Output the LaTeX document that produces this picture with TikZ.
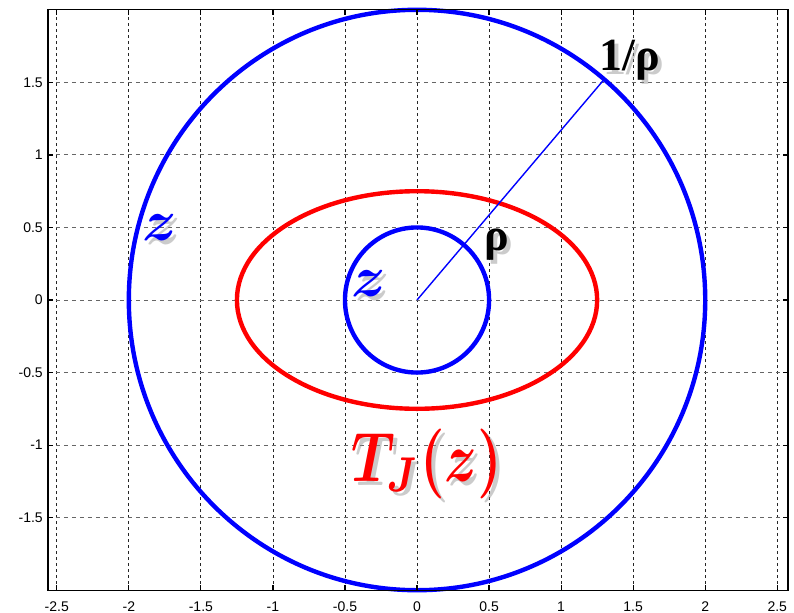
\documentclass[tikz,border=0pt]{standalone}
\usepackage{fontspec}
\usepackage{bm}
\newfontfamily\tickfont{Liberation Sans}
\newfontfamily\lblfont{Liberation Serif}
\tikzset{
  vgrid/.style={black!85, line width=0.8pt, dash pattern=on 3pt off 3pt},
  hgrid/.style={black!60, line width=0.9pt, dash pattern=on 4pt off 4pt},
  curve/.style={line width=4.4pt},
  frameline/.style={black, line width=1.4pt},
  tickmark/.style={black, line width=1.2pt},
  ticklbl/.style={font=\tickfont\fontsize{14}{16}\selectfont, inner sep=0pt},
  biglbl/.style={inner sep=0pt},
  shadelbl/.style={inner sep=0pt, text=black!45, opacity=0.45, xshift=4pt, yshift=-4pt},
  radius line/.style={blue, line width=1.4pt},
}
\newcommand{\zlbl}{\scalebox{5.8}{$\bm{z}$}}
\newcommand{\tjlbl}{\scalebox{5.5}[7.0]{$\bm{T_J(z)}$}}
\begin{document}
\begin{tikzpicture}[x=144.1pt,y=145.1pt]
\useasboundingbox (-2.894,-2.157) rectangle (2.616,2.0675);
\def\L{-2.561}\def\R{2.575}
% grid
\foreach \gx in {-2.5,-2,-1.5,-1,-0.5,0,0.5,1,1.5,2,2.5}
  \draw[vgrid] (\gx,-2) -- (\gx,2);
\foreach \gy in {-1.5,-1,-0.5,0,0.5,1,1.5}
  \draw[hgrid] (\L,\gy) -- (\R,\gy);
% curves
\draw[curve, blue] (0,0) ellipse [x radius=288.2pt, y radius=290.2pt];
\draw[curve, red] (0,0) ellipse [x radius=180.1pt, y radius=108.8pt];
\draw[curve, blue] (0,0) ellipse [x radius=72.05pt, y radius=72.55pt];
% radius line
\coordinate (O) at (0,0);
\coordinate (P) at (1.299,1.521);
\draw[radius line] (O) -- (P);
% frame
\draw[frameline] (\L,-2) rectangle (\R,2);
\foreach \gx in {-2.5,-2,-1.5,-1,-0.5,0,0.5,1,1.5,2,2.5}{
  \draw[tickmark] (\gx,-2) -- ++(0,5pt);
  \draw[tickmark] (\gx,2) -- ++(0,-5pt);
}
\foreach \gy in {-1.5,-1,-0.5,0,0.5,1,1.5}{
  \draw[tickmark] (\L,\gy) -- ++(5pt,0);
  \draw[tickmark] (\R,\gy) -- ++(-5pt,0);
}
% tick labels
\foreach \gx/\t in {-2.5/-2.5,-2/-2,-1.5/-1.5,-1/-1,-0.5/-0.5,0/0,0.5/0.5,1/1,1.5/1.5,2/2,2.5/2.5}
  \node[ticklbl, anchor=north] (xl\t) at ([yshift=-11pt]\gx,-2) {\t};
\foreach \gy/\t in {-1.5/-1.5,-1/-1,-0.5/-0.5,0/0,0.5/0.5,1/1,1.5/1.5}
  \node[ticklbl, anchor=east] (yl\t) at ([xshift=-5pt]\L,\gy) {\t};
% labels with shadows
\node[shadelbl] at (-1.783,0.496) {\zlbl};
\node[biglbl, text=blue] (zout) at (-1.783,0.496) {\zlbl};
\node[shadelbl] at (-0.333,0.110) {\zlbl};
\node[biglbl, text=blue] (zin) at (-0.333,0.110) {\zlbl};
\node[shadelbl] at (0.069,-1.130) {\tjlbl};
\node[biglbl, text=red] (tj) at (0.069,-1.130) {\tjlbl};
\node[shadelbl] at (1.478,1.654) {\lblfont\bfseries\fontsize{46}{48}\selectfont 1/ρ};
\node[biglbl, text=black] (inv) at (1.478,1.654) {\lblfont\bfseries\fontsize{46}{48}\selectfont 1/ρ};
\node[shadelbl] at (0.555,0.379) {\lblfont\bfseries\fontsize{46}{48}\selectfont ρ};
\node[biglbl, text=black] (rho) at (0.555,0.379) {\lblfont\bfseries\fontsize{46}{48}\selectfont ρ};
\end{tikzpicture}
\end{document}
